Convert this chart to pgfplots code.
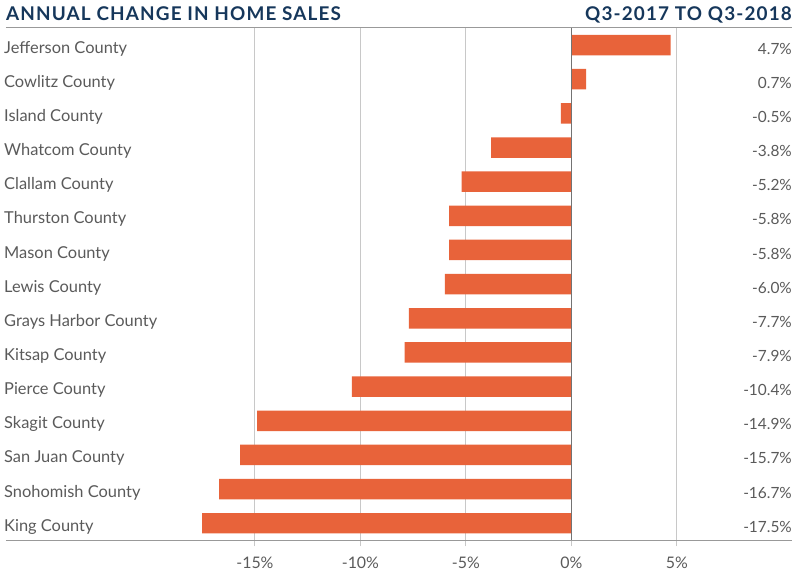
\documentclass[border=0pt]{standalone}
\usepackage{fontspec}
\setmainfont{Lato}
\newfontfamily\titlefont[LetterSpace=6]{Lato Bold}
\usepackage{pgfplots}
\pgfplotsset{compat=1.18}
\usepackage{pgfplotstable}

\definecolor{barorange}{HTML}{E8633A}
\definecolor{navy}{HTML}{16375B}
\definecolor{txtgray}{HTML}{5A5A5A}
\definecolor{gridgray}{HTML}{C8C8C8}

% annual change in home sales, Q3-2017 to Q3-2018 (top to bottom)
\pgfplotstableread{
idx val
0 4.7
1 0.7
2 -0.5
3 -3.8
4 -5.2
5 -5.8
6 -5.8
7 -6.0
8 -7.7
9 -7.9
10 -10.4
11 -14.9
12 -15.7
13 -16.7
14 -17.5
}\salesdata

\begin{document}
\begin{tikzpicture}
\begin{axis}[
  name=ax,
  at={(0,0)}, anchor=south west,
  scale only axis,
  width=787bp, height=513bp,
  xmin=-26.8, xmax=10.46,
  ymin=-0.5, ymax=14.5,
  y dir=reverse,
  clip=false,
  separate axis lines,
  x axis line style={draw=gray!80, line width=1bp},
  y axis line style={draw=none},
  xtick={-15,-10,-5,0,5},
  xtick pos=bottom,
  tick align=outside,
  major tick length=6bp,
  xtick style={draw=gridgray, line width=1bp},
  xmajorgrids,
  grid style={draw=gridgray, line width=1bp},
  ytick={0,...,14},
  ytick style={draw=none},
  yticklabels={Jefferson County, Cowlitz County, Island County, Whatcom County,
    Clallam County, Thurston County, Mason County, Lewis County,
    Grays Harbor County, Kitsap County, Pierce County, Skagit County,
    San Juan County, Snohomish County, King County},
  yticklabel style={anchor=west, inner sep=0pt, xshift=4bp, yshift=-3.5bp,
    font=\fontsize{16.5}{19}\selectfont, text=txtgray},
  /pgf/number format/assume math mode=true,
  xticklabel={\pgfmathprintnumber{\tick}\%},
  xticklabel style={font=\fontsize{16}{19}\selectfont, text=txtgray, yshift=-7bp},
]
\addplot[xbar, bar width=0.6, fill=barorange, draw=none]
  table[x=val, y=idx] {\salesdata};
\addplot[draw=none, mark=none,
  nodes near coords={\pgfmathprintnumber[fixed, fixed zerofill, precision=1]{\pgfplotspointmeta}\%},
  nodes near coords align={anchor=east},
  every node near coord/.append style={inner sep=0pt, yshift=-3.5bp,
    font=\fontsize{15.5}{18}\selectfont, text=txtgray},
  point meta=\thisrow{val}]
  table[x expr=10.46, y=idx] {\salesdata};
\draw[draw=gray!90!black, line width=1.5bp] (axis cs:0,-0.5) -- (axis cs:0,14.5);
\end{axis}
\node[anchor=base west, inner sep=0pt, text=navy,
  font=\titlefont\fontsize{19}{22}\selectfont]
  at ([yshift=7bp]ax.north west) {ANNUAL CHANGE IN HOME SALES};
\node[anchor=base east, inner sep=0pt, text=navy,
  font=\titlefont\fontsize{19}{22}\selectfont]
  at ([yshift=7bp]ax.north east) {Q3-2017 TO Q3-2018};
\path[use as bounding box] ([xshift=-5bp,yshift=-41bp]ax.south west)
  rectangle ([xshift=8bp,yshift=28bp]ax.north east);
\end{tikzpicture}
\end{document}
